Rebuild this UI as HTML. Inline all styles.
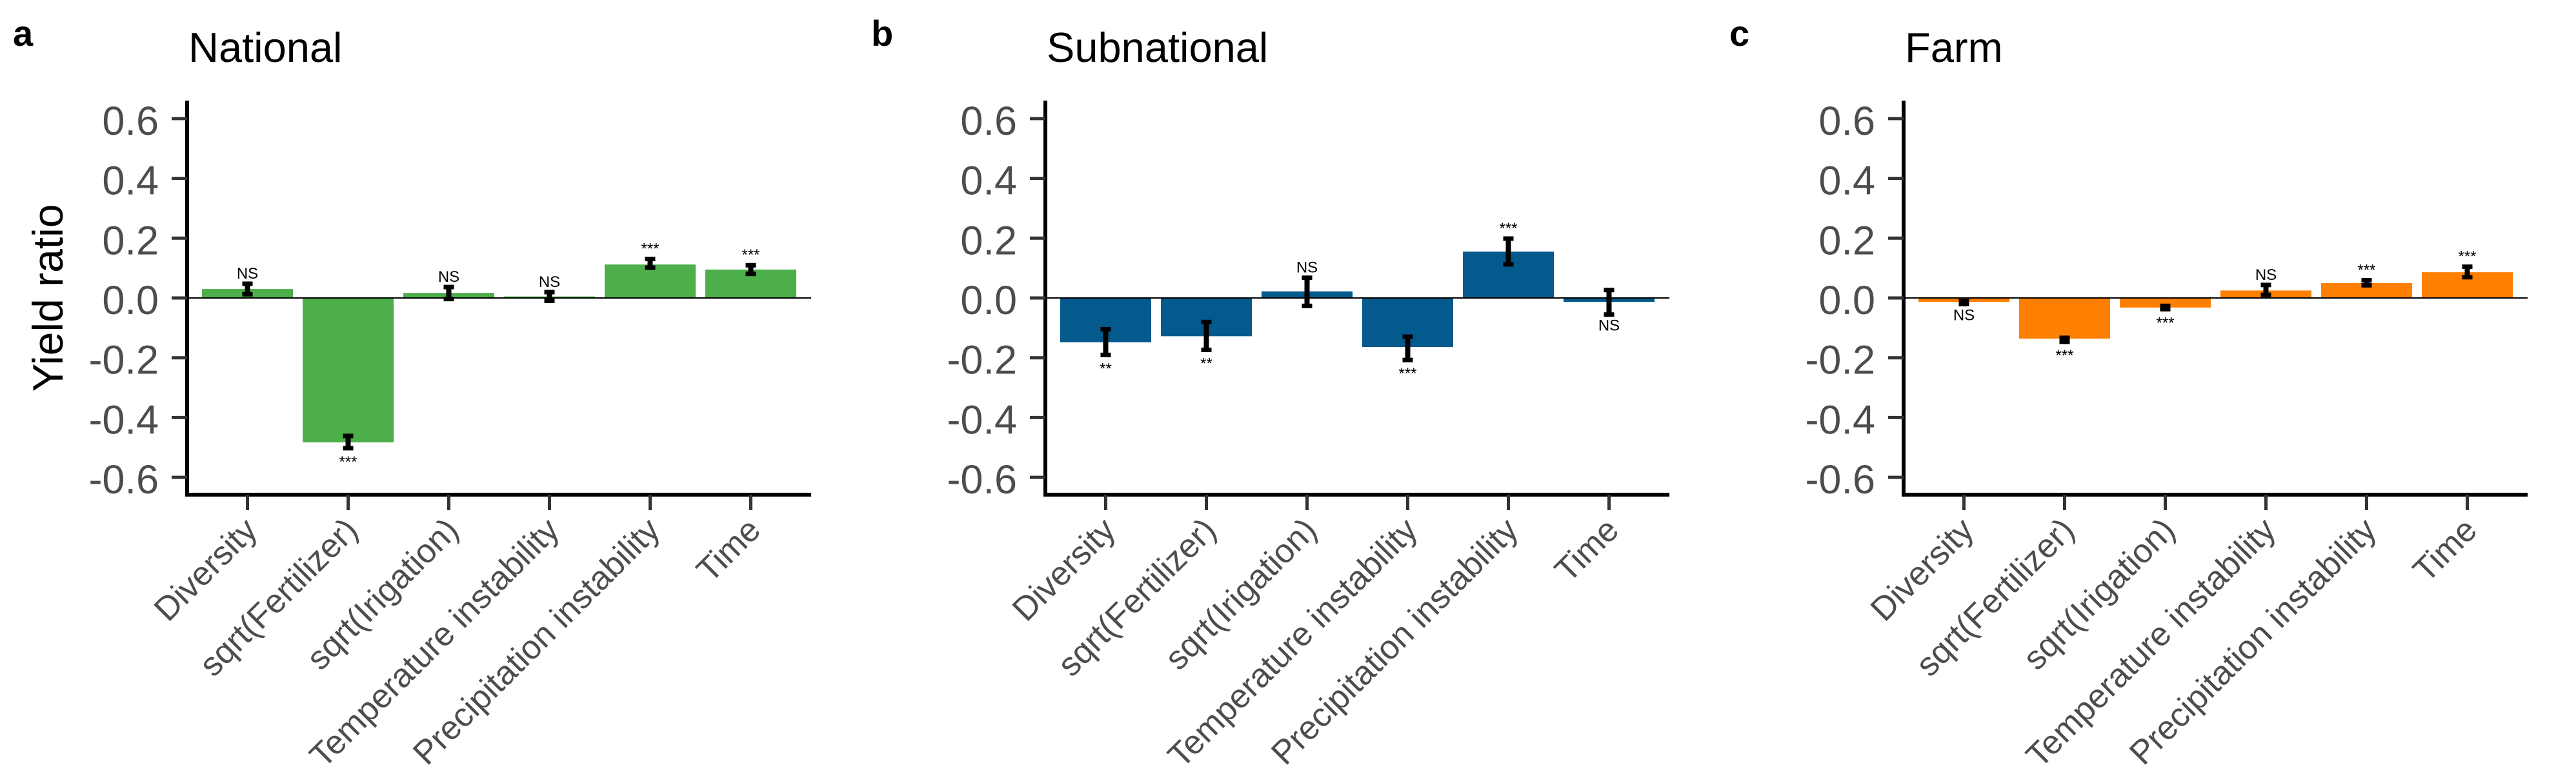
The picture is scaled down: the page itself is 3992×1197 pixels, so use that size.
<!DOCTYPE html>
<html><head><meta charset="utf-8"><style>
html,body{margin:0;padding:0;background:#fff;}
svg{display:block;font-family:"Liberation Sans",Arial,sans-serif;}
</style></head><body>
<svg id="chart" width="3992" height="1197" viewBox="0 0 3992 1197" xmlns="http://www.w3.org/2000/svg"></svg>
<script>
const categories = ["Diversity","sqrt(Fertilizer)","sqrt(Irigation)","Temperature instability","Precipitation instability","Time"];
const yTicks = [0.6,0.4,0.2,0.0,-0.2,-0.4,-0.6];
const yTickLabels = ["0.6","0.4","0.2","0.0","-0.2","-0.4","-0.6"];
const panelLetters = ["a","b","c"];
const panelTitles = ["National","Subnational","Farm"];
const panelColors = ["#4DAF4A","#045A8D","#FF7F00"];
const nationalValues = [0.030,-0.483,0.017,0.005,0.112,0.095];
const nationalLow = [0.006,-0.509,-0.010,-0.016,0.095,0.074];
const nationalHigh = [0.054,-0.455,0.043,0.026,0.137,0.116];
const nationalSig = ["NS","***","NS","NS","***","***"];
const subnationalValues = [-0.148,-0.128,0.022,-0.164,0.155,-0.013];
const subnationalLow = [-0.197,-0.180,-0.033,-0.214,0.106,-0.062];
const subnationalHigh = [-0.098,-0.074,0.074,-0.123,0.205,0.033];
const subnationalSig = ["**","**","NS","***","***","NS"];
const farmValues = [-0.013,-0.136,-0.032,0.025,0.050,0.086];
const farmLow = [-0.027,-0.153,-0.044,0.004,0.036,0.063];
const farmHigh = [-0.004,-0.127,-0.020,0.050,0.066,0.111];
const farmSig = ["NS","***","***","NS","***","***"];

const values = [nationalValues, subnationalValues, farmValues];
const lows = [nationalLow, subnationalLow, farmLow];
const highs = [nationalHigh, subnationalHigh, farmHigh];
const sigs = [nationalSig, subnationalSig, farmSig];

const NS = "http://www.w3.org/2000/svg";
const svg = document.getElementById("chart");
function mk(tag, attrs, parent){ const e=document.createElementNS(NS,tag); for(const k in attrs) e.setAttribute(k,attrs[k]); (parent||svg).appendChild(e); return e; }

const y0 = 462, unit = 463.5;
function yScale(v){ return y0 - v*unit; }
const step = 156, barW = 141;

for (let p=0;p<3;p++){
  const off = p*1330;
  const g = mk("g",{});
  
  
  const axX = off + 290;
  const firstC = off + 383.5;
  function xScale(i){ return firstC + i*step; }
  const axEnd = xScale(5) + 0.6*step;

  const letter = mk("text",{x:off+20,y:71,"font-size":56,"font-weight":"bold",fill:"#000"},g);
  letter.textContent = panelLetters[p];
  
  
  const title = mk("text",{x:off+292,y:96,"font-size":65,fill:"#000"},g);
  title.textContent = panelTitles[p];
  
  

  if (p===0){
    const yt = mk("text",{x:0,y:0,"font-size":66,fill:"#000","text-anchor":"middle",transform:"translate(97,462) rotate(-90)"},g);
    yt.textContent = "Yield ratio";
    
    
  }

  for (let i=0;i<categories.length;i++){
    const v = values[p][i];
    const yb = yScale(Math.max(v,0)), h = Math.abs(yScale(v)-y0);
    const r = mk("rect",{x:xScale(i)-barW/2,y:yb,width:barW,height:Math.max(h,0.5),fill:panelColors[p]},g);
    
    
  }
  const zl = mk("line",{x1:axX,x2:axEnd,y1:y0,y2:y0,stroke:"#000","stroke-width":2},g);
  
  
  for (let i=0;i<categories.length;i++){
    const cx = xScale(i);
    const yh = yScale(highs[p][i]), yl = yScale(lows[p][i]);
    const eb = mk("g",{},g);
    
    
    mk("line",{x1:cx,x2:cx,y1:yh,y2:yl,stroke:"#000","stroke-width":8},eb);
    mk("line",{x1:cx-8,x2:cx+8,y1:yh+3,y2:yh+3,stroke:"#000","stroke-width":7},eb);
    mk("line",{x1:cx-8,x2:cx+8,y1:yl-3,y2:yl-3,stroke:"#000","stroke-width":7},eb);
    const v = values[p][i];
    const lbl = sigs[p][i];
    let ly;
    if (v>0) ly = yh - 5;
    else ly = yl + (lbl==="NS" ? 22 : 26);
    const t = mk("text",{x:cx,y:ly,"font-size":24,fill:"#000","text-anchor":"middle"},g);
    t.textContent = lbl;
    
    
  }
  const ya = mk("line",{x1:axX,x2:axX,y1:156,y2:770,stroke:"#000","stroke-width":6},g);
  
  
  const xa = mk("line",{x1:axX-3,x2:axEnd,y1:767,y2:767,stroke:"#000","stroke-width":6},g);
  
  
  for (let k=0;k<yTicks.length;k++){
    const yy = yScale(yTicks[k]);
    mk("line",{x1:axX-24,x2:axX,y1:yy,y2:yy,stroke:"#333","stroke-width":5},g);
    const tl = mk("text",{x:off+246,y:yy+25,"font-size":63,fill:"#4d4d4d","text-anchor":"end"},g);
    tl.textContent = yTickLabels[k];
    
    
  }
  for (let i=0;i<categories.length;i++){
    const cx = xScale(i);
    mk("line",{x1:cx,x2:cx,y1:767,y2:791,stroke:"#333","stroke-width":5},g);
    const xl = mk("text",{x:0,y:0,"font-size":52,fill:"#4d4d4d","text-anchor":"end",transform:`translate(${cx+18},${825}) rotate(-45)`},g);
    xl.textContent = categories[i];
    
    
  }
}
</script>
</body></html>
